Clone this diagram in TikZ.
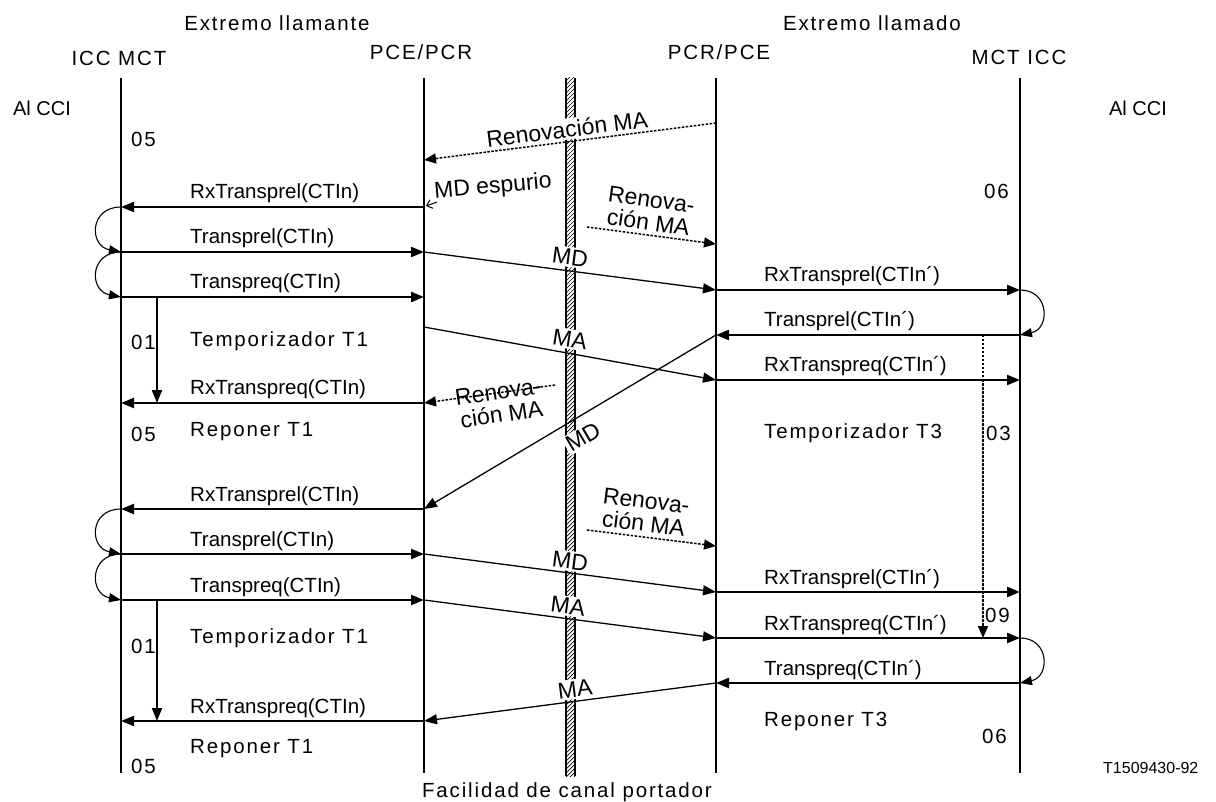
\documentclass[tikz,border=0pt]{standalone}
\usepackage{fontspec}
\setmainfont{Liberation Sans}
\newfontfamily\spc[LetterSpace=9]{Liberation Sans}
\usetikzlibrary{arrows.meta}
\tikzset{
  life/.style={line width=2pt},
  msg/.style={line width=2.3pt,-{Triangle[length=13pt,width=10pt]}},
  diag/.style={line width=1.3pt,-{Triangle[length=13pt,width=10pt]}},
  dots/.style={line width=1.5pt,dash pattern=on 2.5pt off 1.5pt,-{Triangle[length=12pt,width=10pt]}},
  loopy/.style={line width=1.1pt,-{Triangle[length=12pt,width=9pt]}},
  hatch/.style={line width=0.7pt},
  lbl/.style={font=\fontsize{20.5}{24}\selectfont,anchor=base west,inner sep=0pt},
  tlbl/.style={font=\spc\fontsize{20.5}{24}\selectfont,anchor=base west,inner sep=0pt},
  hdr/.style={font=\spc\fontsize{20.5}{24}\selectfont,inner sep=0pt},
  slant/.style={font=\fontsize{23}{25}\selectfont,fill=white,inner sep=2pt,align=center},
  slantnf/.style={font=\fontsize{23}{25}\selectfont,inner sep=2pt,align=center},
}
\begin{document}
\begin{tikzpicture}[x=1pt,y=-1pt]
\useasboundingbox (0,0) rectangle (1216,802);
% bearer channel
\begin{scope}
  \clip (566,78) rectangle (575,776);
  \foreach \y in {78,82,...,790} \draw[hatch] (566,\y+3) -- (575,\y-6);
\end{scope}
\draw[life] (566,78)--(566,776) (575,78)--(575,776);
% lifelines
\coordinate (At) at (121,78); \coordinate (Ab) at (121,773);
\coordinate (Bt) at (424,78); \coordinate (Bb) at (424,773);
\coordinate (Ct) at (716,78); \coordinate (Cb) at (716,773);
\coordinate (Dt) at (1020,78); \coordinate (Db) at (1020,773);
\draw[life] (At)--(Ab) (Bt)--(Bb) (Ct)--(Cb) (Dt)--(Db);
% headers
\node[hdr] (hL) at (277,23) {Extremo llamante};
\node[hdr] (hR) at (872,23) {Extremo llamado};
\node[hdr] (hA) at (119,58) {ICC MCT};
\node[hdr] (hB) at (421,52) {PCE/PCR};
\node[hdr] (hC) at (719,52) {PCR/PCE};
\node[hdr] (hD) at (1019,57) {MCT ICC};
\node[font=\fontsize{20}{24}\selectfont,inner sep=0pt] (cciL) at (42,108) {Al CCI};
\node[font=\fontsize{20}{24}\selectfont,inner sep=0pt] (cciR) at (1138,108) {Al CCI};
% coordinates
\coordinate (a207) at (121,207); \coordinate (b207) at (424,207);
\coordinate (a252) at (121,252); \coordinate (b252) at (424,252);
\coordinate (a297) at (121,297); \coordinate (b297) at (424,297);
\coordinate (a403) at (121,403); \coordinate (b403) at (424,403);
\coordinate (a509) at (121,509); \coordinate (b509) at (424,509);
\coordinate (a554) at (121,554); \coordinate (b554) at (424,554);
\coordinate (a600) at (121,600); \coordinate (b600) at (424,600);
\coordinate (a721) at (121,721); \coordinate (b721) at (424,721);
\coordinate (b160) at (424,160); \coordinate (b327) at (424,327);
\coordinate (c123) at (716,123); \coordinate (c244) at (716,244);
\coordinate (c290) at (716,290); \coordinate (d290) at (1020,290);
\coordinate (c335) at (716,335); \coordinate (d335) at (1020,335);
\coordinate (c380) at (716,380); \coordinate (d380) at (1020,380);
\coordinate (c546) at (716,546);
\coordinate (c592) at (716,592); \coordinate (d592) at (1020,592);
\coordinate (c638) at (716,638); \coordinate (d638) at (1020,638);
\coordinate (c683) at (716,683); \coordinate (d683) at (1020,683);
\coordinate (t1s) at (157,297); \coordinate (t1e) at (157,403);
\coordinate (t2s) at (157,600); \coordinate (t2e) at (157,721);
\coordinate (t3s) at (983,335); \coordinate (t3e) at (983,638);
\coordinate (r1s) at (587,227); \coordinate (r2s) at (555,385); \coordinate (r3s) at (587,530);
\coordinate (esp1) at (437,202); \coordinate (esp2) at (426,206);
% horizontal messages
\draw[msg] (b207) -- (a207);
\draw[msg] (a252) -- (b252);
\draw[msg] (a297) -- (b297);
\draw[msg] (b403) -- (a403);
\draw[msg] (b509) -- (a509);
\draw[msg] (a554) -- (b554);
\draw[msg] (a600) -- (b600);
\draw[msg] (b721) -- (a721);
\draw[msg] (c290) -- (d290);
\draw[msg] (d335) -- (c335);
\draw[msg] (c380) -- (d380);
\draw[msg] (c592) -- (d592);
\draw[msg] (c638) -- (d638);
\draw[msg] (d683) -- (c683);
% timers
\draw[msg,line width=2pt] (t1s) -- (t1e);
\draw[msg,line width=2pt] (t2s) -- (t2e);
\draw[dots] (t3s) -- (t3e);
% loops
\draw[loopy] (a207) .. controls +(-32,0) and +(-32,-6) .. (a252);
\draw[loopy] (a252) .. controls +(-32,0) and +(-32,-6) .. (a297);
\draw[loopy] (a509) .. controls +(-32,0) and +(-32,-6) .. (a554);
\draw[loopy] (a554) .. controls +(-32,0) and +(-32,-6) .. (a600);
\draw[loopy] (d290) .. controls +(30,0) and +(30,-6) .. (d335);
\draw[loopy] (d638) .. controls +(30,0) and +(30,-6) .. (d683);
% diagonal bearer messages
\draw[diag] (b252) -- (c290);
\draw[diag] (b327) -- (c380);
\draw[diag] (c335) -- (b509);
\draw[diag] (b554) -- (c592);
\draw[diag] (b600) -- (c638);
\draw[diag] (c683) -- (b721);
% dotted renewal messages
\draw[dots] (c123) -- (b160);
\draw[dots] (r1s) -- (c244);
\draw[dots] (r2s) -- (b403);
\draw[dots] (r3s) -- (c546);
\draw[line width=1pt,-{Straight Barb[length=5pt,width=9pt]}] (esp1) -- (esp2);
% slanted labels
\node[slant,rotate=7.2] (rnv1) at (567,129) {Renovación MA};
\node[slantnf,rotate=5] (mdesp) at (493,187) {MD espurio};
\node[slant,rotate=-7.4] (md1) at (570,257) {MD};
\node[slant,rotate=-8,font=\fontsize{23}{23}\selectfont] (rnv2) at (650,211) {Renova-\\ción MA};
\node[slant,rotate=-9] (ma1) at (570,339) {MA};
\node[slantnf,rotate=8.3,font=\fontsize{23}{23}\selectfont] (rnv3) at (500,403) {Renova-\\ción MA};
\node[slant,rotate=30.6] (md2) at (583,437) {MD};
\node[slant,rotate=-7,font=\fontsize{23}{23}\selectfont] (rnv4) at (645,512) {Renova-\\ción MA};
\node[slant,rotate=-7.4] (md3) at (570,561) {MD};
\node[slant,rotate=-7.4] (ma2) at (568,606) {MA};
\node[slant,rotate=7.2] (ma3) at (575,689) {MA};
% message labels left
\node[lbl] (m1) at (190,199) {RxTransprel(CTIn)};
\node[lbl] (m2) at (190,244) {Transprel(CTIn)};
\node[lbl] (m3) at (190,289) {Transpreq(CTIn)};
\node[tlbl] (m4) at (190,347) {Temporizador T1};
\node[lbl] (m5) at (190,395) {RxTranspreq(CTIn)};
\node[tlbl] (m6) at (190,436) {Reponer T1};
\node[lbl] (m7) at (190,501) {RxTransprel(CTIn)};
\node[lbl] (m8) at (190,546) {Transprel(CTIn)};
\node[lbl] (m9) at (190,592) {Transpreq(CTIn)};
\node[tlbl] (m10) at (190,643) {Temporizador T1};
\node[lbl] (m11) at (190,713) {RxTranspreq(CTIn)};
\node[tlbl] (m12) at (190,753) {Reponer T1};
% message labels right
\node[lbl] (n1) at (764,282) {RxTransprel(CTIn´)};
\node[lbl] (n2) at (764,327) {Transprel(CTIn´)};
\node[lbl] (n3) at (764,372) {RxTranspreq(CTIn´)};
\node[tlbl] (n4) at (764,438) {Temporizador T3};
\node[lbl] (n5) at (764,584) {RxTransprel(CTIn´)};
\node[lbl] (n6) at (764,630) {RxTranspreq(CTIn´)};
\node[lbl] (n7) at (764,675) {Transpreq(CTIn´)};
\node[tlbl] (n8) at (764,726) {Reponer T3};
% state numbers
\node[tlbl] (s1) at (131,147) {05};
\node[tlbl] (s2) at (131,350) {01};
\node[tlbl] (s3) at (131,441) {05};
\node[tlbl] (s4) at (131,653) {01};
\node[tlbl] (s5) at (131,773) {05};
\node[tlbl] (s6) at (984,199) {06};
\node[tlbl] (s7) at (986,440) {03};
\node[tlbl] (s8) at (985,622) {09};
\node[tlbl] (s9) at (982,743) {06};
% footer
\node[lbl,font=\fontsize{16}{20}\selectfont] (ref) at (1103,773) {T1509430-92};
\node[hdr,anchor=base] (fac) at (567,797) {Facilidad de canal portador};
\end{tikzpicture}
\end{document}
